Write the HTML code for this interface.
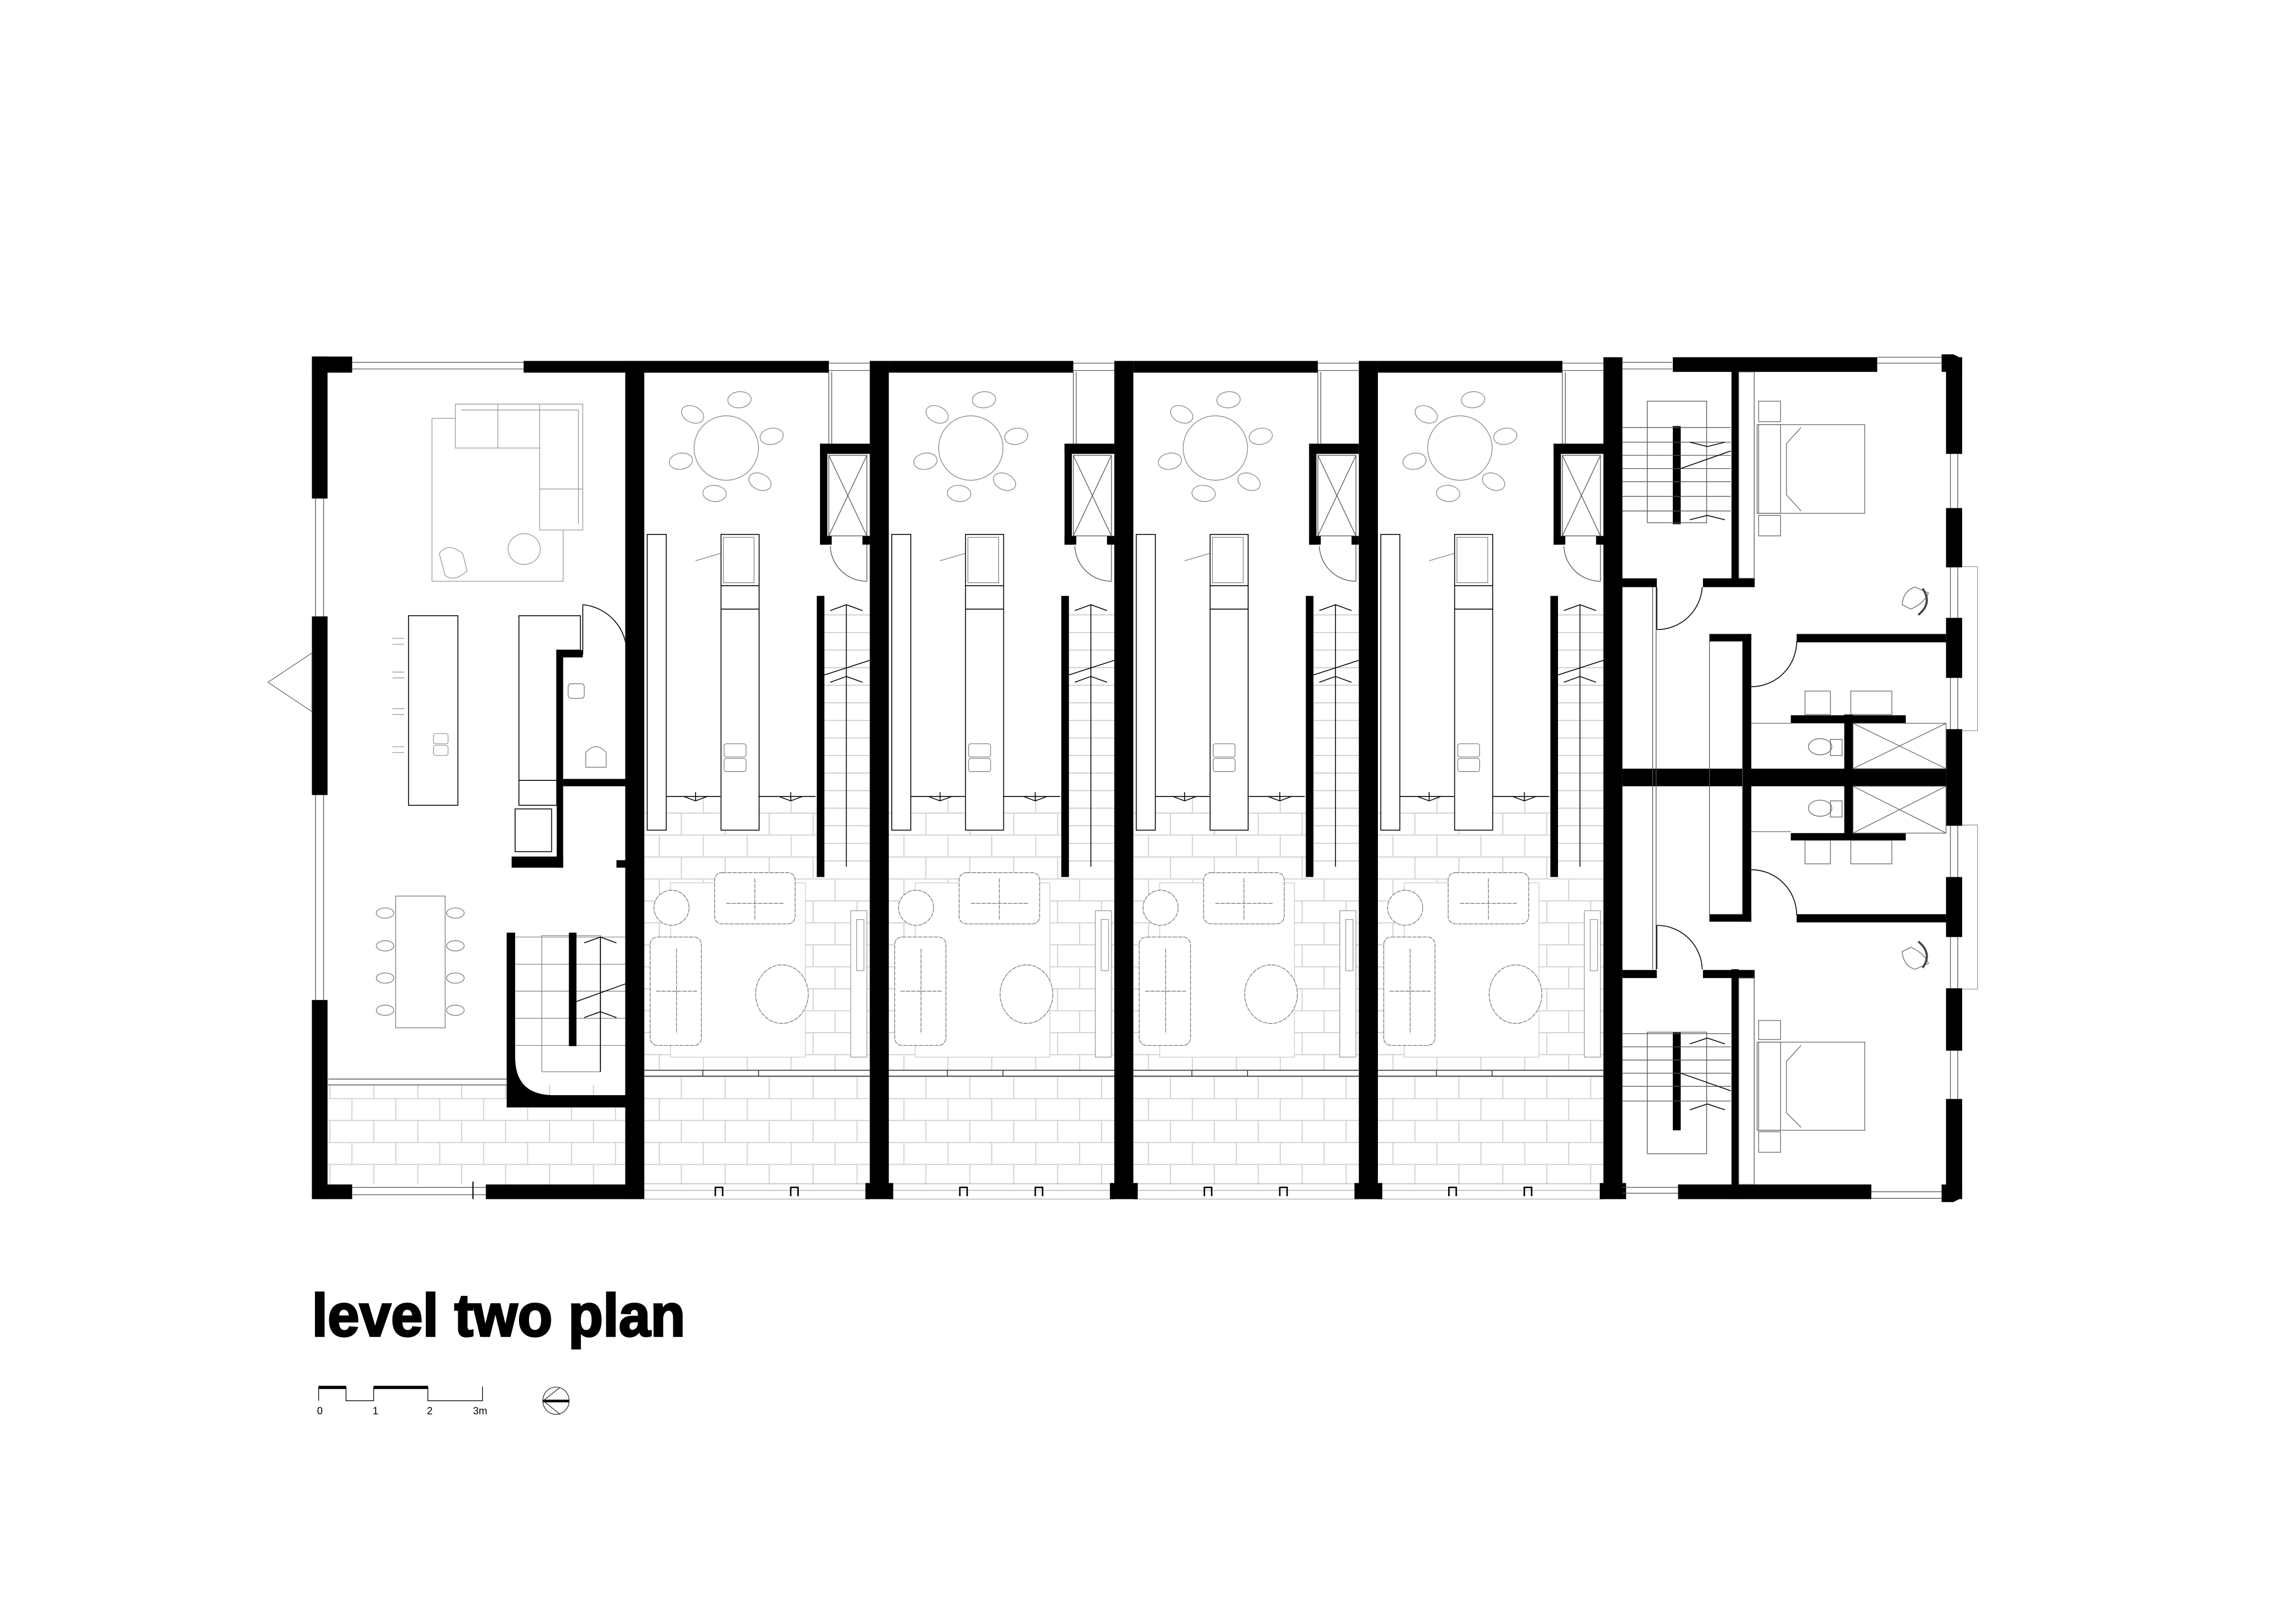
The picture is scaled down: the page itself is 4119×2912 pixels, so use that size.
<!DOCTYPE html>
<html><head><meta charset="utf-8"><style>
html,body{margin:0;padding:0;background:#fff;}
svg{display:block;}
</style></head><body>
<svg xmlns="http://www.w3.org/2000/svg" xmlns:xlink="http://www.w3.org/1999/xlink" width="4119" height="2912" viewBox="0 0 1568 1108.5">
<defs>
<pattern id="pv" patternUnits="userSpaceOnUse" width="60" height="30" x="0" y="0">
<g stroke="#cfcfcf" stroke-width="0.7" fill="none">
<line x1="0" y1="0.3" x2="60" y2="0.3"/><line x1="0" y1="15.3" x2="60" y2="15.3"/>
<line x1="0.3" y1="0" x2="0.3" y2="15"/><line x1="30.3" y1="0" x2="30.3" y2="15"/>
<line x1="15.3" y1="15" x2="15.3" y2="30"/><line x1="45.3" y1="15" x2="45.3" y2="30"/>
</g></pattern>
<g id="u">
<rect x="440" y="544" width="154" height="187" fill="url(#pv)"/>
<rect x="440" y="735" width="154" height="74" fill="url(#pv)"/>
<rect x="440" y="246.5" width="126" height="8" fill="#000"/>
<g stroke="#555" stroke-width="0.5" fill="none">
<line x1="566" y1="248" x2="594" y2="248"/><line x1="566" y1="253" x2="594" y2="253"/>
<line x1="566" y1="254" x2="566" y2="303"/><line x1="568" y1="254" x2="568" y2="303"/>
</g>
<rect x="560" y="303" width="5" height="69" fill="#000"/>
<rect x="560" y="303" width="34" height="7" fill="#000"/>
<rect x="560" y="366" width="8" height="6" fill="#000"/>
<rect x="589" y="366" width="5" height="6" fill="#000"/>
<g stroke="#555" stroke-width="0.5" fill="none">
<rect x="566" y="311" width="26" height="55"/><line x1="566" y1="311" x2="592" y2="366"/><line x1="592" y1="311" x2="566" y2="366"/>
<line x1="592" y1="372" x2="592" y2="397"/><path d="M567,373 A25,25 0 0 0 592,397"/>
</g>
<rect x="563" y="404" width="31" height="196" fill="#fff"/>
<g stroke="#bbb" stroke-width="0.5">
<line x1="563" y1="420" x2="594" y2="420"/><line x1="563" y1="432" x2="594" y2="432"/><line x1="563" y1="444" x2="594" y2="444"/><line x1="563" y1="456" x2="594" y2="456"/><line x1="563" y1="468" x2="594" y2="468"/><line x1="563" y1="480" x2="594" y2="480"/><line x1="563" y1="492" x2="594" y2="492"/><line x1="563" y1="504" x2="594" y2="504"/><line x1="563" y1="516" x2="594" y2="516"/><line x1="563" y1="528" x2="594" y2="528"/><line x1="563" y1="540" x2="594" y2="540"/><line x1="563" y1="552" x2="594" y2="552"/><line x1="563" y1="564" x2="594" y2="564"/><line x1="563" y1="576" x2="594" y2="576"/><line x1="563" y1="588" x2="594" y2="588"/>
</g>
<rect x="557.8" y="407" width="5.2" height="192" fill="#000"/>
<g stroke="#000" stroke-width="0.6" fill="none">
<line x1="578" y1="413" x2="578" y2="592"/>
<polyline points="567,417 578,413 589,417"/><polyline points="567,466 578,462 589,466"/>
<line x1="563" y1="461" x2="594" y2="451"/>
</g>
<g stroke="#888" stroke-width="0.5" fill="#fff">
<circle cx="496" cy="306" r="22"/>
<ellipse cx="473" cy="283" rx="8" ry="5.5" transform="rotate(25 473 283)"/>
<ellipse cx="505" cy="273" rx="8" ry="5.5" transform="rotate(-5 505 273)"/>
<ellipse cx="527" cy="298" rx="8" ry="5.5" transform="rotate(-10 527 298)"/>
<ellipse cx="465" cy="315" rx="8" ry="5.5" transform="rotate(-10 465 315)"/>
<ellipse cx="488" cy="337" rx="8" ry="5.5" transform="rotate(5 488 337)"/>
<ellipse cx="519" cy="329" rx="8" ry="5.5" transform="rotate(25 519 329)"/>
</g>
<g stroke="#000" stroke-width="0.6" fill="#fff">
<rect x="442" y="365" width="13" height="202"/>
<rect x="492.4" y="365" width="26" height="202"/>
<line x1="492.4" y1="400" x2="518.4" y2="400"/><line x1="492.4" y1="416" x2="518.4" y2="416"/>
</g>
<g stroke="#666" stroke-width="0.4" fill="none">
<rect x="494.5" y="508" width="15" height="9" rx="1.5"/><rect x="494.5" y="518" width="15" height="9" rx="1.5"/>
<rect x="494" y="367" width="21" height="31"/>
<line x1="475" y1="383" x2="492" y2="378"/>
</g>
<g stroke="#000" stroke-width="0.6" fill="none">
<line x1="455" y1="544" x2="492" y2="544"/><line x1="518" y1="544" x2="557" y2="544"/>
<polyline points="467,544 475,547 483,544"/><line x1="475" y1="541" x2="475" y2="547"/>
<polyline points="532,544 540,547 548,544"/><line x1="540" y1="541" x2="540" y2="547"/>
</g>
<rect x="458" y="603" width="92" height="119" fill="#fff" stroke="#ccc" stroke-width="0.5"/>
<g stroke="#777" stroke-width="0.5" fill="#fff" stroke-dasharray="3,0.6">
<rect x="488" y="596" width="55" height="35" rx="5"/><line x1="515.5" y1="600" x2="515.5" y2="628"/><line x1="496" y1="617" x2="535" y2="617"/>
<rect x="444" y="640" width="35" height="74" rx="5"/><line x1="448" y1="677" x2="476" y2="677"/><line x1="462" y1="648" x2="462" y2="706"/>
<circle cx="458.6" cy="620" r="12"/>
<ellipse cx="534" cy="679" rx="18" ry="20"/>
</g>
<g stroke="#999" stroke-width="0.5" fill="#fff">
<rect x="581" y="622" width="11" height="100"/><rect x="585" y="628" width="5" height="35"/>
</g>
<g stroke="#333" stroke-width="0.6" fill="none">
<line x1="440" y1="731" x2="594" y2="731"/><line x1="440" y1="735" x2="594" y2="735"/>
<line x1="480" y1="731" x2="480" y2="735"/><line x1="518" y1="731" x2="518" y2="735"/>
</g>
<g stroke="#bbb" stroke-width="0.6"><line x1="440" y1="808.5" x2="594" y2="808.5"/><line x1="440" y1="813" x2="594" y2="813"/><line x1="440" y1="819" x2="594" y2="819"/></g>
<g stroke="#000" stroke-width="1" fill="none">
<polyline points="488.5,817 488.5,811 493.5,811 493.5,817"/><polyline points="540,817 540,811 545,811 545,817"/>
</g>
</g>
</defs>

<rect x="224" y="741" width="203" height="68" fill="url(#pv)"/>

<use xlink:href="#u"/>
<use xlink:href="#u" x="167"/>
<use xlink:href="#u" x="334"/>
<use xlink:href="#u" x="501"/>

<rect x="213" y="243.5" width="27.5" height="11" fill="#000"/>
<rect x="213" y="243.5" width="10.7" height="97" fill="#000"/>
<rect x="213" y="421" width="10.7" height="122" fill="#000"/>
<rect x="213" y="683" width="10.7" height="136" fill="#000"/>
<rect x="213" y="809" width="27.5" height="10" fill="#000"/>
<g stroke="#555" stroke-width="0.5" fill="none">
<line x1="215.5" y1="340" x2="215.5" y2="421"/><line x1="221" y1="340" x2="221" y2="421"/>
<line x1="215.5" y1="543" x2="215.5" y2="683"/><line x1="221" y1="543" x2="221" y2="683"/>
<line x1="240" y1="247.5" x2="358" y2="247.5"/><line x1="240" y1="252" x2="358" y2="252"/>
<line x1="240" y1="811" x2="332" y2="811"/><line x1="240" y1="816" x2="332" y2="816"/>
<polygon points="183,466 213,446 213,486" stroke="#666"/>
</g>
<rect x="357.6" y="246.5" width="208.4" height="8" fill="#000"/>
<rect x="331.8" y="809" width="108" height="10" fill="#000"/>
<line x1="323" y1="807" x2="323" y2="819" stroke="#000" stroke-width="0.8"/>

<rect x="427" y="246.5" width="13" height="572.5" fill="#000"/>
<rect x="594" y="246.5" width="13" height="572.5" fill="#000"/>
<rect x="761" y="246.5" width="13" height="572.5" fill="#000"/>
<rect x="928" y="246.5" width="13" height="572.5" fill="#000"/>
<rect x="1095" y="244" width="13" height="575" fill="#000"/>
<rect x="591" y="808" width="19" height="11" fill="#000"/>
<rect x="758" y="808" width="19" height="11" fill="#000"/>
<rect x="925" y="808" width="19" height="11" fill="#000"/>
<rect x="1092.5" y="808" width="18" height="11" fill="#000"/>

<g stroke="#999" stroke-width="0.5" fill="none">
<rect x="295" y="285.7" width="89.6" height="111.3"/>
<path d="M311,276 H398 V362 H368.5 V306 H311 Z" fill="#fff"/>
<line x1="315" y1="280" x2="395" y2="280"/><line x1="395" y1="280" x2="395" y2="358"/>
<line x1="340" y1="276" x2="340" y2="306"/><line x1="368.5" y1="276" x2="368.5" y2="306"/><line x1="368.5" y1="334" x2="398" y2="334"/>
<ellipse cx="358" cy="375" rx="11" ry="10.5"/>
<path d="M300,378 Q306,370 316,378 L319,390 Q310,398 304,393 Z"/>
<rect x="279" y="420.5" width="33.7" height="129.5" stroke="#000" stroke-width="0.6"/>
<rect x="296" y="501" width="10" height="7" rx="1.5"/><rect x="296" y="509" width="10" height="7" rx="1.5"/>
<path d="M268,436 h8 M268,440 h8 M268,459 h8 M268,463 h8 M268,484 h8 M268,488 h8 M268,510 h8 M268,514 h8"/>
<rect x="270.2" y="612" width="33.8" height="90" stroke="#777"/>
<g stroke="#777">
<ellipse cx="263" cy="623.6" rx="6" ry="3.5"/><ellipse cx="263" cy="646" rx="6" ry="3.5"/><ellipse cx="263" cy="668" rx="6" ry="3.5"/><ellipse cx="263" cy="690" rx="6" ry="3.5"/>
<ellipse cx="311" cy="623.6" rx="6" ry="3.5"/><ellipse cx="311" cy="646" rx="6" ry="3.5"/><ellipse cx="311" cy="668" rx="6" ry="3.5"/><ellipse cx="311" cy="690" rx="6" ry="3.5"/>
</g>
</g>
<g stroke="#000" stroke-width="0.6" fill="#fff">
<path d="M354.4,420.5 H396.4 V444 H380.2 V550 H354.4 Z"/>
<line x1="354.4" y1="533" x2="380.2" y2="533"/>
<rect x="351.8" y="552.5" width="24.9" height="29.2"/>
</g>
<rect x="380.2" y="444" width="4.4" height="148.6" fill="#000"/>
<rect x="380.2" y="444" width="17.8" height="5" fill="#000"/>
<rect x="384.6" y="532" width="44.4" height="5" fill="#000"/>
<rect x="349.4" y="585" width="35.2" height="7.6" fill="#000"/>
<rect x="421" y="587.5" width="8" height="5.1" fill="#000"/>
<g stroke="#000" stroke-width="0.6" fill="none">
<line x1="398" y1="413" x2="398" y2="447"/><path d="M398,413 A33,33 0 0 1 428,446"/>
</g>
<g stroke="#777" stroke-width="0.5" fill="none">
<rect x="388" y="467" width="11" height="10" rx="2"/>
<path d="M400,524 V514 Q407,506 414,514 V524 Z"/>
</g>
<g stroke="#888" stroke-width="0.5" fill="none">
<rect x="370" y="639" width="40.2" height="93"/>
<line x1="352" y1="640" x2="427" y2="640"/><line x1="352" y1="658.6" x2="427" y2="658.6"/><line x1="352" y1="677" x2="427" y2="677"/><line x1="352" y1="695.5" x2="427" y2="695.5"/><line x1="352" y1="714" x2="427" y2="714"/>
</g>
<g stroke="#000" stroke-width="0.6" fill="none">
<polyline points="399,644 410,640 421,644"/><polyline points="399,695 410,691 421,695"/>
<line x1="410" y1="640" x2="410" y2="732"/><line x1="393.7" y1="684" x2="427" y2="672"/>
</g>
<rect x="388.5" y="637" width="5.2" height="77.5" fill="#000"/>
<path d="M346,637 H351.8 V722 Q351.8,748 378,748 H429 V756.4 H346 Z" fill="#000"/>
<g stroke="#444" stroke-width="0.5"><line x1="224" y1="737" x2="346" y2="737"/><line x1="224" y1="741" x2="346" y2="741"/></g>

<g stroke="#555" stroke-width="0.5" fill="none">
<line x1="1108" y1="247.5" x2="1142" y2="247.5"/><line x1="1108" y1="252" x2="1142" y2="252"/>
<line x1="1282" y1="244" x2="1326" y2="244"/><line x1="1282" y1="248" x2="1326" y2="248"/>
<line x1="1108" y1="811" x2="1146" y2="811"/><line x1="1108" y1="815" x2="1146" y2="815"/>
<line x1="1278" y1="814" x2="1326" y2="814"/><line x1="1278" y1="818.5" x2="1326" y2="818.5"/>
<polyline points="1340,387 1350.5,387 1350.5,499 1340,499" stroke="#999"/>
<polyline points="1340,563.5 1350.5,563.5 1350.5,675.6 1340,675.6" stroke="#999"/>
<line x1="1332" y1="310" x2="1332" y2="347"/><line x1="1337" y1="310" x2="1337" y2="347"/>
<line x1="1332" y1="387" x2="1332" y2="422"/><line x1="1337" y1="387" x2="1337" y2="422"/>
<line x1="1332" y1="463" x2="1332" y2="498"/><line x1="1337" y1="463" x2="1337" y2="498"/>
<line x1="1332" y1="564" x2="1332" y2="599"/><line x1="1337" y1="564" x2="1337" y2="599"/>
<line x1="1332" y1="640" x2="1332" y2="675"/><line x1="1337" y1="640" x2="1337" y2="675"/>
<line x1="1332" y1="717" x2="1332" y2="751"/><line x1="1337" y1="717" x2="1337" y2="751"/>
</g>
<rect x="1142.4" y="244" width="139.6" height="10" fill="#000"/>
<rect x="1146" y="809" width="132" height="10" fill="#000"/>
<polygon points="1326,242 1334,242 1340,245 1340,254 1326,254" fill="#000"/>
<polygon points="1326,809 1340,809 1340,818 1334,821 1326,821" fill="#000"/>
<g fill="#000">
<rect x="1329" y="244" width="11" height="66"/>
<rect x="1329" y="347" width="11" height="40.5"/>
<rect x="1329" y="422" width="11" height="41"/>
<rect x="1329" y="498" width="11" height="66"/>
<rect x="1329" y="599" width="11" height="41"/>
<rect x="1329" y="675" width="11" height="42.6"/>
<rect x="1329" y="750.6" width="11" height="68.4"/>
<rect x="1108" y="525" width="221" height="12"/>
<rect x="1182.5" y="253.5" width="4.9" height="142.5"/>
<rect x="1108" y="395" width="23.5" height="6"/>
<rect x="1163" y="395" width="35.3" height="6"/>
<rect x="1182.5" y="662" width="4.9" height="157"/>
<rect x="1108" y="662.5" width="23.5" height="5.5"/>
<rect x="1163" y="662.5" width="35.3" height="5.5"/>
<rect x="1190" y="433" width="6" height="196.5"/>
<rect x="1167.4" y="433" width="28.6" height="5"/>
<rect x="1167.4" y="624.5" width="28.6" height="5"/>
<rect x="1227" y="433" width="102" height="5.7"/>
<rect x="1227" y="624.4" width="102" height="5.6"/>
<rect x="1223" y="488.5" width="78.5" height="5.5"/>
<rect x="1259.5" y="488" width="6" height="82"/>
<rect x="1223" y="569" width="78.5" height="5"/>
<rect x="1142.4" y="291" width="5.4" height="67"/>
<rect x="1142.4" y="705" width="5.4" height="67"/>
</g>
<g stroke="#555" stroke-width="0.5" fill="none">
<rect x="1187.4" y="254" width="10.6" height="141"/>
<rect x="1187.4" y="668" width="10.6" height="141"/>
<line x1="1128.6" y1="401" x2="1128.6" y2="662"/><line x1="1131" y1="401" x2="1131" y2="662"/>
<rect x="1167.4" y="438" width="22.6" height="186.5"/>
<rect x="1125" y="274" width="40.5" height="83"/>
<rect x="1125" y="705" width="40.5" height="83"/>
<line x1="1108" y1="292" x2="1182" y2="292"/><line x1="1108" y1="302" x2="1182" y2="302"/><line x1="1108" y1="311" x2="1182" y2="311"/><line x1="1108" y1="320" x2="1182" y2="320"/><line x1="1108" y1="329" x2="1182" y2="329"/><line x1="1108" y1="339" x2="1182" y2="339"/><line x1="1108" y1="349" x2="1182" y2="349"/>
<line x1="1108" y1="706" x2="1182" y2="706"/><line x1="1108" y1="715" x2="1182" y2="715"/><line x1="1108" y1="724" x2="1182" y2="724"/><line x1="1108" y1="733" x2="1182" y2="733"/><line x1="1108" y1="742" x2="1182" y2="742"/><line x1="1108" y1="752" x2="1182" y2="752"/>
</g>
<g stroke="#000" stroke-width="0.6" fill="none">
<polyline points="1154,302 1166,305 1178,302"/><polyline points="1154,355 1166,352 1178,355"/>
<line x1="1147.8" y1="320" x2="1182" y2="308"/>
<polyline points="1154,713 1166,709 1178,713"/><polyline points="1154,758 1166,754 1178,758"/>
<line x1="1147.8" y1="733" x2="1182" y2="745"/>
<line x1="1131.5" y1="401" x2="1131.5" y2="430"/><path d="M1131.5,430 A31,31 0 0 0 1162.5,401"/>
<line x1="1131.5" y1="632" x2="1131.5" y2="662"/><path d="M1131.5,632 A31,31 0 0 1 1162.5,662"/>
<path d="M1196,469 A31,31 0 0 0 1227,438"/>
<path d="M1196,594 A31,31 0 0 1 1227,625"/>
</g>
<g stroke="#666" stroke-width="0.5" fill="none">
<rect x="1265.5" y="494" width="63.5" height="31"/><line x1="1265.5" y1="494" x2="1329" y2="525"/><line x1="1329" y1="494" x2="1265.5" y2="525"/>
<rect x="1265.5" y="537" width="63.5" height="32"/><line x1="1265.5" y1="537" x2="1329" y2="569"/><line x1="1329" y1="537" x2="1265.5" y2="569"/>
<rect x="1232.7" y="472" width="17.3" height="16"/><rect x="1264" y="472" width="28" height="16"/>
<rect x="1232.7" y="574" width="17.3" height="16"/><rect x="1264" y="574" width="28" height="16"/>
<ellipse cx="1243" cy="510" rx="8" ry="5.5"/><ellipse cx="1243" cy="552" rx="8" ry="5.5"/>
<rect x="1250" y="505" width="8" height="11"/><rect x="1250" y="547" width="8" height="11"/>
<line x1="1196" y1="494" x2="1223" y2="494"/><line x1="1196" y1="568" x2="1223" y2="568"/>
<rect x="1200" y="290" width="73.5" height="60.6"/><rect x="1201" y="290" width="15" height="60.6"/>
<rect x="1201" y="274" width="15" height="14"/><rect x="1201" y="352" width="15" height="14"/>
<polyline points="1230,292 1220,303 1220,338 1230,349"/>
<rect x="1200" y="711.8" width="73.5" height="60.2"/><rect x="1201" y="711.8" width="15" height="60.2"/>
<rect x="1201" y="697" width="15" height="13"/><rect x="1201" y="773" width="15" height="14"/>
<polyline points="1230,714 1220,725 1220,760 1230,770"/>
<path d="M1299,413 Q1300,403 1308,401 L1317,405 Q1314,412 1305,416 Z"/>
<path d="M1313,402 Q1320,412 1310,420" stroke-width="1.4" stroke="#444"/>
<path d="M1299,650 Q1300,660 1308,662 L1317,658 Q1314,651 1305,647 Z"/>
<path d="M1313,661 Q1320,651 1310,643" stroke-width="1.4" stroke="#444"/>
</g>

<text x="213" y="912.5" font-family="Liberation Sans, Arial, sans-serif" font-weight="bold" font-size="41" textLength="255" lengthAdjust="spacingAndGlyphs" fill="#000" stroke="#000" stroke-width="1.3">level two plan</text>
<g fill="none" stroke="#000" stroke-width="0.5">
<path d="M217.6,956.7 V947 M236.3,947 V956.7 H255.2 V947 M292.2,947 V956.7 H329.5 V947"/>
</g>
<rect x="217.6" y="946.5" width="18.7" height="2.2" fill="#000"/>
<rect x="255.2" y="946.5" width="37" height="2.2" fill="#000"/>
<g font-family="Liberation Sans, Arial, sans-serif" font-size="7" fill="#000">
<text x="216.5" y="966">0</text><text x="254.5" y="966">1</text><text x="291.5" y="966">2</text><text x="323" y="966">3m</text>
</g>
<ellipse cx="379.7" cy="956.7" rx="9" ry="9.3" fill="none" stroke="#000" stroke-width="0.4"/>
<rect x="371" y="956" width="17.7" height="1.8" fill="#000"/>
<polyline points="382.5,947.5 371,956.7 382.5,966" fill="none" stroke="#000" stroke-width="0.4"/>
</svg>
</body></html>
